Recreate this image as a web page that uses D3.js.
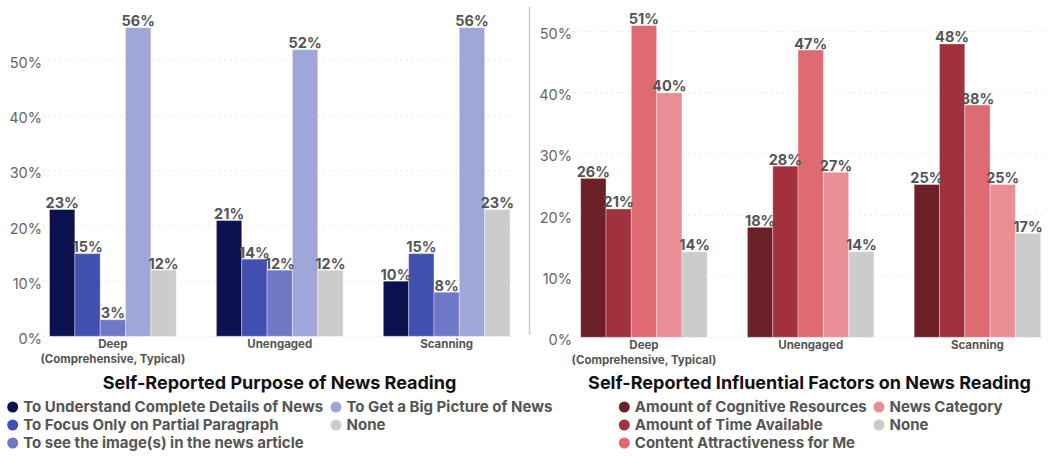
<!DOCTYPE html>
<html>
<head>
<meta charset="utf-8">
<script src="https://cdn.jsdelivr.net/npm/d3@7"></script>
<style>
  html, body { margin: 0; padding: 0; background: #fff; }
  svg { display: block; font-family: Inter, "Noto Sans", sans-serif; }
</style>
</head>
<body>
<svg id="chart" width="1050" height="456"></svg>
<script>
// Reading modes shared by both panels
const categories = ["Deep\n(Comprehensive, Typical)", "Unengaged", "Scanning"];

// Panel 1: purpose of reading (percent of respondents)
const purposeSeries = [
  "To Understand Complete Details of News",
  "To Focus Only on Partial Paragraph",
  "To see the image(s) in the news article",
  "To Get a Big Picture of News",
  "None"
];
const purposeValues = [
  [23, 15, 3, 56, 12],
  [21, 14, 12, 52, 12],
  [10, 15, 8, 56, 23]
];
const purposeColors = ["#0c1250", "#4150b0", "#6f78c4", "#a0a6d8", "#cccccc"];

// Panel 2: influential factors (percent of respondents)
const factorSeries = [
  "Amount of Cognitive Resources",
  "Amount of Time Available",
  "Content Attractiveness for Me",
  "News Category",
  "None"
];
const factorValues = [
  [26, 21, 51, 40, 14],
  [18, 28, 47, 27, 14],
  [25, 48, 38, 25, 17]
];
const factorColors = ["#6b2127", "#a1323d", "#de6a72", "#e88e94", "#cccccc"];

const yTicks = [0, 10, 20, 30, 40, 50];

const svg = d3.select("#chart");

function panel(cfg) {
  const g = svg.append("g");
  const y = d3.scaleLinear().domain([0, 50]).range([cfg.y0, cfg.y50]);
  const x0 = d3.scaleBand().domain(categories).range([cfg.xl, cfg.xr])
    .paddingInner(0.241).paddingOuter(0.039);
  const x1 = d3.scaleBand().domain(d3.range(cfg.series.length))
    .range([0, x0.bandwidth()]);

  // dotted gridlines
  g.append("g").selectAll("line").data(yTicks).join("line")
    .attr("x1", cfg.gl).attr("x2", cfg.gr)
    .attr("y1", d => y(d)).attr("y2", d => y(d))
    .attr("stroke", "#e0e0e0").attr("stroke-width", 1)
    .attr("stroke-dasharray", "1.5,4");

  // y axis labels
  const yAxis = d3.axisLeft(y).tickValues(yTicks).tickFormat(d => d + "%").tickSize(0).tickPadding(0);
  const ya = g.append("g").attr("transform", `translate(${cfg.ylab},0)`).call(yAxis);
  ya.select(".domain").remove();
  ya.selectAll("text").attr("fill", "#666").attr("font-size", 14.5)
    .attr("font-family", "Inter, sans-serif").attr("font-weight", 400).attr("dy", "0.48em");

  // bars
  const groups = g.append("g").selectAll("g").data(categories).join("g")
    .attr("transform", d => `translate(${x0(d)},0)`);
  groups.selectAll("rect").data((d, i) => cfg.values[i].map((v, j) => ({ v, j })))
    .join("rect")
    .attr("x", d => x1(d.j)).attr("width", x1.bandwidth())
    .attr("y", d => y(d.v)).attr("height", d => y(0) - y(d.v))
    .attr("fill", d => cfg.colors[d.j])
    .attr("stroke", "rgba(255,255,255,0.35)").attr("stroke-width", 1);
  groups.selectAll("text").data((d, i) => cfg.values[i].map((v, j) => ({ v, j })))
    .join("text")
    .attr("x", d => x1(d.j) + x1.bandwidth() / 2)
    .attr("y", d => y(d.v) - 1.5)
    .attr("text-anchor", "middle")
    .attr("fill", "#555").attr("font-size", 14.5).attr("font-weight", 700)
    .text(d => d.v + "%");

  // category labels
  const xa = g.append("g");
  categories.forEach(c => {
    const t = xa.append("text")
      .attr("x", x0(c) + x0.bandwidth() / 2).attr("y", cfg.y0 + 8)
      .attr("text-anchor", "middle").attr("fill", "#555")
      .attr("font-size", 11.5).attr("font-weight", 700);
    c.split("\n").forEach((line, k) => {
      t.append("tspan").attr("x", x0(c) + x0.bandwidth() / 2)
        .attr("dy", k === 0 ? "0.32em" : "1.28em").text(line);
    });
  });

  // title
  g.append("text").attr("x", cfg.titleX).attr("y", 389)
    .attr("text-anchor", "middle").attr("fill", "#111")
    .attr("font-size", 18).attr("font-weight", 700).text(cfg.title);

  // legend
  const rows = [0, 1, 2, 0, 1];
  const cols = [0, 0, 0, 1, 1];
  const lg = g.append("g");
  cfg.series.forEach((s, i) => {
    const cx = cfg.legX[cols[i]];
    const cy = 407 + rows[i] * 18;
    lg.append("circle").attr("cx", cx).attr("cy", cy).attr("r", 5.5).attr("fill", cfg.colors[i]);
    lg.append("text").attr("x", cx + 10.5).attr("y", cy).attr("dy", "0.35em")
      .attr("fill", "#555").attr("font-size", 15).attr("font-weight", 700).text(s);
  });
}

panel({
  series: purposeSeries, values: purposeValues, colors: purposeColors,
  y0: 336.3, y50: 60.7, xl: 43, xr: 516.5, gl: 43, gr: 517, ylab: 42,
  title: "Self-Reported Purpose of News Reading", titleX: 279.5,
  legX: [12.7, 336]
});

panel({
  series: factorSeries, values: factorValues, colors: factorColors,
  y0: 337.3, y50: 31.7, xl: 574.2, xr: 1047.2, gl: 573, gr: 1045, ylab: 572,
  title: "Self-Reported Influential Factors on News Reading", titleX: 809.5,
  legX: [624.3, 879]
});

// divider between panels
svg.append("line").attr("x1", 529.5).attr("x2", 529.5).attr("y1", 7).attr("y2", 335)
  .attr("stroke", "#cfcfcf").attr("stroke-width", 1.5);
</script>
</body>
</html>
